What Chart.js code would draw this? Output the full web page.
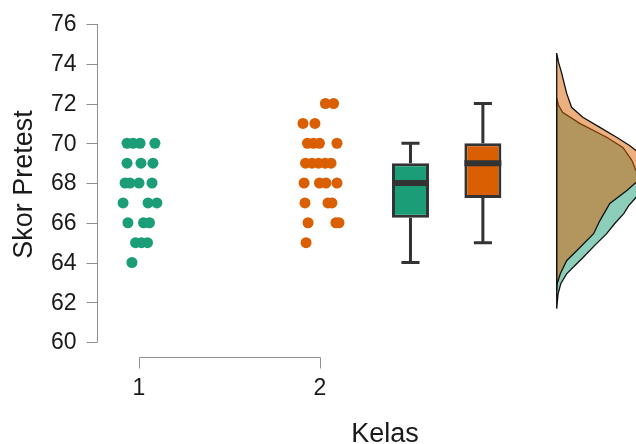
<!DOCTYPE html>
<html lang="id">

<head>
    <meta charset="UTF-8" />
    <title>Skor Pretest per Kelas</title>

    <!-- Chart.js -->
    <script src="https://cdn.jsdelivr.net/npm/chart.js"></script>

    <style>
        body {
            margin: 0;
            background-color: #fff;
        }
    </style>
</head>

<body>
    <canvas id="rainChart" width="636" height="444"></canvas>

    <script>
        // ---- data ----
        const kelas = ["1", "2"];
        const yTicks = [60, 62, 64, 66, 68, 70, 72, 74, 76];

        // Kelas 1 raw scores + horizontal jitter (in x units)
        const skor1 = [70, 70, 70, 70, 69, 69, 69, 68, 68, 68, 68, 67, 67, 67, 66, 66, 66, 65, 65, 65, 64];
        const jitter1 = [-0.066, -0.033, 0.006, 0.088, -0.066, 0.011, 0.077, -0.077, -0.050, 0.000, 0.072,
            -0.088, 0.050, 0.099, -0.061, 0.025, 0.058, -0.019, 0.014, 0.047, -0.039];

        // Kelas 2 raw scores + jitter
        const skor2 = [72, 72, 71, 71, 70, 70, 70, 70, 69, 69, 69, 69, 69, 68, 68, 68, 68, 67, 67, 67, 66, 66, 66, 65];
        const jitter2 = [0.030, 0.075, -0.094, -0.028, -0.069, -0.036, -0.003, 0.094, -0.080, -0.044, -0.008, 0.028, 0.061,
            -0.088, -0.003, 0.033, 0.094, -0.083, 0.044, 0.066, -0.066, 0.088, 0.105, -0.077];

        // box stats: min, q1, median, q3, max
        const box1 = [64, 66.25, 68, 69, 70];
        const box2 = [65, 67.25, 69, 70, 72];

        // half-violin outlines (score, density)
        const densSkor1 = [72.26, 71.91, 71.56, 71.00, 70.30, 69.79, 69.14, 68.63, 68.28, 67.92, 67.62, 67.27,
            66.86, 66.46, 65.96, 65.45, 64.85, 64.24, 63.84, 63.43, 62.93, 62.42, 61.67];
        const dens1 = [0, 0.004, 0.013, 0.051, 0.111, 0.147, 0.167, 0.176, 0.189, 0.196, 0.191, 0.176,
            0.160, 0.149, 0.129, 0.111, 0.084, 0.058, 0.040, 0.022, 0.009, 0.003, 0];
        const densSkor2 = [74.54, 74.08, 73.53, 72.52, 71.81, 71.31, 70.80, 70.30, 69.89, 69.64, 69.24, 68.83,
            68.43, 68.03, 67.62, 66.97, 66.11, 65.45, 64.74, 64.09, 63.43, 62.93, 62.57];
        const dens2 = [0, 0.004, 0.011, 0.022, 0.033, 0.058, 0.096, 0.133, 0.162, 0.176, 0.196, 0.204,
            0.196, 0.176, 0.156, 0.118, 0.096, 0.082, 0.051, 0.022, 0.008, 0.001, 0];

        // ---- layout / style ----
        const GREEN = "#1b9e77";
        const ORANGE = "#d95f02";
        const INK = "#333333";
        const boxPos = [2.5, 2.9];
        const boxHalf = 0.102;
        const capHalf = 0.05;
        const FONT = '"Liberation Sans", Arial, sans-serif';

        const points = (skor, jit, k) => skor.map((v, i) => ({ x: k + jit[i], y: v }));

        // whiskers + caps as broken line segments
        function whiskers(b, pos) {
            const gap = { x: pos, y: null };
            return [
                { x: pos, y: b[0] }, { x: pos, y: b[1] }, gap,
                { x: pos, y: b[3] }, { x: pos, y: b[4] }, gap,
                { x: pos - capHalf, y: b[0] }, { x: pos + capHalf, y: b[0] }, gap,
                { x: pos - capHalf, y: b[4] }, { x: pos + capHalf, y: b[4] }
            ];
        }

        function medians() {
            const gap = { x: boxPos[0], y: null };
            return [
                { x: boxPos[0] - boxHalf, y: box1[2] }, { x: boxPos[0] + boxHalf, y: box1[2] }, gap,
                { x: boxPos[1] - boxHalf, y: box2[2] }, { x: boxPos[1] + boxHalf, y: box2[2] }
            ];
        }

        // closed outline: curve then back along the baseline
        function outline(skor, dens) {
            const pts = skor.map((v, i) => ({ x: dens[i], y: v }));
            pts.push(pts[0]);
            return pts;
        }

        // R-style detached axes
        const rAxes = {
            id: "rAxes",
            afterDraw(chart) {
                const { ctx, chartArea } = chart;
                const x = chart.scales.x;
                const y = chart.scales.y;
                ctx.save();
                ctx.strokeStyle = "#8f8f8f";
                ctx.lineWidth = 1;
                ctx.fillStyle = "#1a1a1a";

                // y axis
                const ax = chartArea.left + 0.5;
                ctx.beginPath();
                ctx.moveTo(ax, y.getPixelForValue(yTicks[0]));
                ctx.lineTo(ax, y.getPixelForValue(yTicks[yTicks.length - 1]));
                yTicks.forEach(v => {
                    const py = Math.round(y.getPixelForValue(v)) + 0.5;
                    ctx.moveTo(ax - 11, py);
                    ctx.lineTo(ax, py);
                });
                ctx.stroke();

                ctx.font = "23px " + FONT;
                ctx.textAlign = "right";
                ctx.textBaseline = "middle";
                yTicks.forEach(v => ctx.fillText(String(v), ax - 21, y.getPixelForValue(v) + 1));

                // x axis bracket
                const by = chartArea.bottom + 15.5;
                const x1 = Math.round(x.getPixelForValue(1)) + 0.5;
                const x2 = Math.round(x.getPixelForValue(kelas.length)) + 0.5;
                ctx.beginPath();
                ctx.moveTo(x1, by + 11);
                ctx.lineTo(x1, by);
                ctx.lineTo(x2, by);
                ctx.lineTo(x2, by + 11);
                ctx.stroke();

                ctx.textAlign = "center";
                kelas.forEach((lab, i) => ctx.fillText(lab, x.getPixelForValue(i + 1), by + 31));

                // titles
                ctx.font = "27px " + FONT;
                ctx.textBaseline = "alphabetic";
                ctx.fillText("Kelas", 385, 442);
                ctx.save();
                ctx.translate(32, 184.5);
                ctx.rotate(-Math.PI / 2);
                ctx.fillText("Skor Pretest", 0, 0);
                ctx.restore();

                ctx.restore();
            }
        };

        new Chart(document.getElementById("rainChart"), {
            type: "scatter",
            data: {
                datasets: [
                    {
                        label: "Kelas 1",
                        data: points(skor1, jitter1, 1),
                        backgroundColor: GREEN,
                        pointRadius: 5.5,
                        borderWidth: 0,
                        order: 0
                    },
                    {
                        label: "Kelas 2",
                        data: points(skor2, jitter2, 2),
                        backgroundColor: ORANGE,
                        pointRadius: 5.5,
                        borderWidth: 0,
                        order: 0
                    },
                    {
                        type: "line",
                        label: "median",
                        data: medians(),
                        borderColor: INK,
                        borderWidth: 6,
                        pointRadius: 0,
                        fill: false,
                        spanGaps: false,
                        order: 1
                    },
                    {
                        type: "bar",
                        label: "box",
                        data: [
                            { x: boxPos[0], y: [box1[1], box1[3]] },
                            { x: boxPos[1], y: [box2[1], box2[3]] }
                        ],
                        backgroundColor: [GREEN, ORANGE],
                        borderColor: INK,
                        borderWidth: 3,
                        borderSkipped: false,
                        grouped: false,
                        maxBarThickness: 37,
                        order: 2
                    },
                    {
                        type: "line",
                        label: "whisker 1",
                        data: whiskers(box1, boxPos[0]),
                        borderColor: INK,
                        borderWidth: 3,
                        pointRadius: 0,
                        fill: false,
                        spanGaps: false,
                        order: 3
                    },
                    {
                        type: "line",
                        label: "whisker 2",
                        data: whiskers(box2, boxPos[1]),
                        borderColor: INK,
                        borderWidth: 3,
                        pointRadius: 0,
                        fill: false,
                        spanGaps: false,
                        order: 3
                    },
                    {
                        type: "line",
                        label: "densitas 2",
                        xAxisID: "xd",
                        data: outline(densSkor2, dens2),
                        borderColor: "#111",
                        borderWidth: 1.3,
                        backgroundColor: "rgba(217, 95, 2, 0.5)",
                        fill: "shape",
                        pointRadius: 0,
                        tension: 0,
                        order: 4
                    },
                    {
                        type: "line",
                        label: "densitas 1",
                        xAxisID: "xd",
                        data: outline(densSkor1, dens1),
                        borderColor: "#111",
                        borderWidth: 1.3,
                        backgroundColor: "rgba(27, 158, 119, 0.5)",
                        fill: "shape",
                        pointRadius: 0,
                        tension: 0,
                        order: 5
                    }
                ]
            },
            options: {
                responsive: false,
                animation: false,
                events: [],
                layout: {
                    autoPadding: false,
                    padding: { left: 97, top: 24, right: 0, bottom: 102 }
                },
                plugins: {
                    legend: { display: false },
                    tooltip: { enabled: false }
                },
                scales: {
                    x: { type: "linear", min: 0.768, max: 3.746, offset: false, display: false },
                    xd: { type: "linear", min: -1.0216, max: 0.1762, offset: false, display: false },
                    y: { type: "linear", min: 60, max: 76, display: false }
                }
            },
            plugins: [rAxes]
        });
    </script>
</body>

</html>
